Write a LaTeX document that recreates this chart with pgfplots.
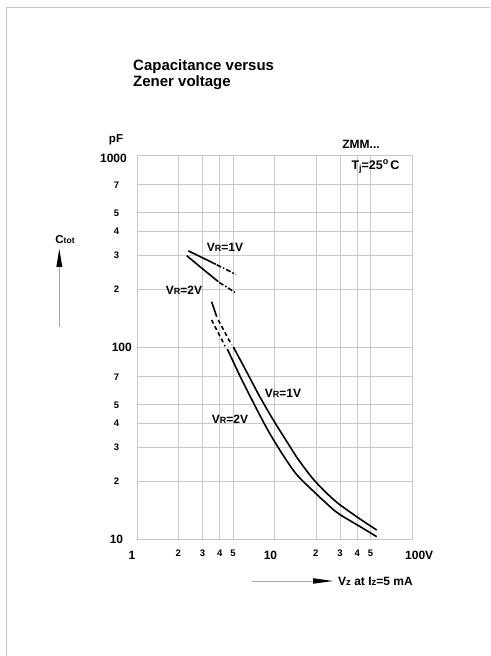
\documentclass[border=0pt]{standalone}
\usepackage{fontspec}
\setmainfont{Liberation Sans}
\usepackage{pgfplots}
\pgfplotsset{compat=1.18}
\newcommand{\fsz}[1]{\fontsize{#1}{#1}\selectfont\bfseries}
\definecolor{gridc}{RGB}{200,200,200}
\tikzset{
  ylab/.style={font=\fsz{9.5}, xshift=-20.5pt, inner sep=0pt},
  xlab/.style={font=\fsz{9.5}, yshift=-14.5pt, inner sep=0pt},
  curve/.style={black, line width=1.6pt},
}
\begin{document}
\begin{tikzpicture}[x=1pt,y=1pt]
\useasboundingbox (0pt,0pt) rectangle (490pt,656pt);
\draw[black!22, line width=0.9pt] (6pt,0pt) -- (6pt,649pt) -- (490pt,649pt);
% title
\node[anchor=base west, font=\fsz{15}, inner sep=0pt] at (133pt,585.3pt) {Capacitance versus};
\node[anchor=base west, font=\fsz{15}, inner sep=0pt] at (133pt,569.3pt) {Zener voltage};

\begin{axis}[
  at={(137pt,117pt)}, anchor=south west,
  scale only axis, width=275pt, height=384pt,
  xmode=log, ymode=log,
  xmin=1, xmax=100, ymin=10, ymax=1000,
  xtick={1,2,3,4,5,10,20,30,40,50,100},
  ytick={10,20,30,40,50,70,100,200,300,400,500,700,1000},
  minor xtick={}, minor ytick={},
  xticklabels={}, yticklabels={},
  major tick length=0pt,
  grid=major,
  major grid style={gridc, line width=0.6pt},
  axis line style={gridc, line width=0.6pt},
  clip=false,
]
% lower curves: VR=1V
\addplot[curve] coordinates {(3.49,172) (3.80,143.8)};
\addplot[curve, dash pattern=on 4pt off 3pt] coordinates {(3.90,138.2) (4.88,102.4)};
\addplot[curve, smooth] coordinates {(5.02,100) (6.28,74.1) (7.84,54.9) (9.80,41.7) (12.96,30.3) (14.90,25.95) (18.96,20.66) (23.29,17.68) (29.11,15.30) (42.37,12.64) (55.38,11.14)};
% lower curves: VR=2V
\addplot[curve, dash pattern=on 4pt off 3pt] coordinates {(3.49,138.2) (4.37,101)};
\addplot[curve, smooth] coordinates {(4.54,97.6) (5.61,70.6) (7.01,51.4) (8.53,39.25) (9.80,33.0) (11.28,28.05) (12.96,24.14) (14.90,21.16) (18.96,17.88) (23.29,15.58) (29.11,13.58) (42.37,11.55) (55.38,10.28)};
% upper curves
\addplot[curve] coordinates {(2.36,317) (3.74,269.7)};
\addplot[curve, dash pattern=on 5pt off 2pt on 1.5pt off 2pt] coordinates {(3.80,268) (5.22,239)};
\addplot[curve, smooth] coordinates {(2.30,299) (2.87,262) (3.90,219)};
\addplot[curve, dash pattern=on 5pt off 2pt on 1.5pt off 2pt] coordinates {(3.96,217) (5.16,192.7)};
% y tick labels
\node[font=\fsz{12}, anchor=east, inner sep=0pt, xshift=-10pt, yshift=-3pt] at (axis cs:1,1000) {1000};
\node[font=\fsz{12}, anchor=east, inner sep=0pt, xshift=-5pt] at (axis cs:1,100) {100};
\node[font=\fsz{12}, inner sep=0pt, xshift=-20.5pt] at (axis cs:1,10) {10};
\node[ylab] at (axis cs:1,700) {7};
\node[ylab] at (axis cs:1,500) {5};
\node[ylab] at (axis cs:1,400) {4};
\node[ylab] at (axis cs:1,300) {3};
\node[ylab] at (axis cs:1,200) {2};
\node[ylab] at (axis cs:1,70) {7};
\node[ylab] at (axis cs:1,50) {5};
\node[ylab] at (axis cs:1,40) {4};
\node[ylab] at (axis cs:1,30) {3};
\node[ylab] at (axis cs:1,20) {2};
% x tick labels
\node[font=\fsz{12}, inner sep=0pt, xshift=-5pt, yshift=-16.5pt] at (axis cs:1,10) {1};
\node[font=\fsz{12}, inner sep=0pt, xshift=-4pt, yshift=-16.5pt] at (axis cs:10,10) {10};
\node[font=\fsz{12}, inner sep=0pt, anchor=west, xshift=-7pt, yshift=-16.5pt] at (axis cs:100,10) {100V};
\node[xlab] at (axis cs:2,10) {2};
\node[xlab] at (axis cs:3,10) {3};
\node[xlab] at (axis cs:4,10) {4};
\node[xlab] at (axis cs:5,10) {5};
\node[xlab] at (axis cs:20,10) {2};
\node[xlab] at (axis cs:30,10) {3};
\node[xlab] at (axis cs:40,10) {4};
\node[xlab] at (axis cs:50,10) {5};
\end{axis}

% unit and annotations
\node[font=\fsz{11.5}] at (116pt,516pt) {pF};
\node[font=\fsz{12}] at (361pt,512pt) {ZMM...};
\node[font=\fsz{12.5}] at (375.5pt,489pt) {T\raisebox{-2pt}{\fsz{9}j}=25\raisebox{5pt}{\fsz{9}o}\,C};
\node[font=\fsz{12}] at (225pt,409pt) {V{\fsz{9}R}=1V};
\node[font=\fsz{12}] at (184pt,366pt) {V{\fsz{9}R}=2V};
\node[font=\fsz{12}] at (283pt,263pt) {V{\fsz{9}R}=1V};
\node[font=\fsz{12}] at (230pt,237pt) {V{\fsz{9}R}=2V};

% y axis label with arrow
\node[font=\fsz{11.5}] at (65pt,416pt) {C{\fsz{8.5}tot}};
\draw[black!35, line width=0.6pt] (59.3pt,329pt) -- (59.3pt,390pt);
\fill[black] (56.3pt,389pt) -- (59.3pt,407pt) -- (62.3pt,389pt) -- cycle;

% x axis label with arrow
\draw[black!35, line width=0.6pt] (252pt,75pt) -- (314pt,75pt);
\fill[black] (313pt,72.2pt) -- (333pt,75pt) -- (313pt,77.8pt) -- cycle;
\node[font=\fsz{12}, anchor=west, inner sep=0pt] at (338pt,75pt) {V{\fsz{9.5}z} at I{\fsz{9.5}z}=5 mA};
\end{tikzpicture}
\end{document}
